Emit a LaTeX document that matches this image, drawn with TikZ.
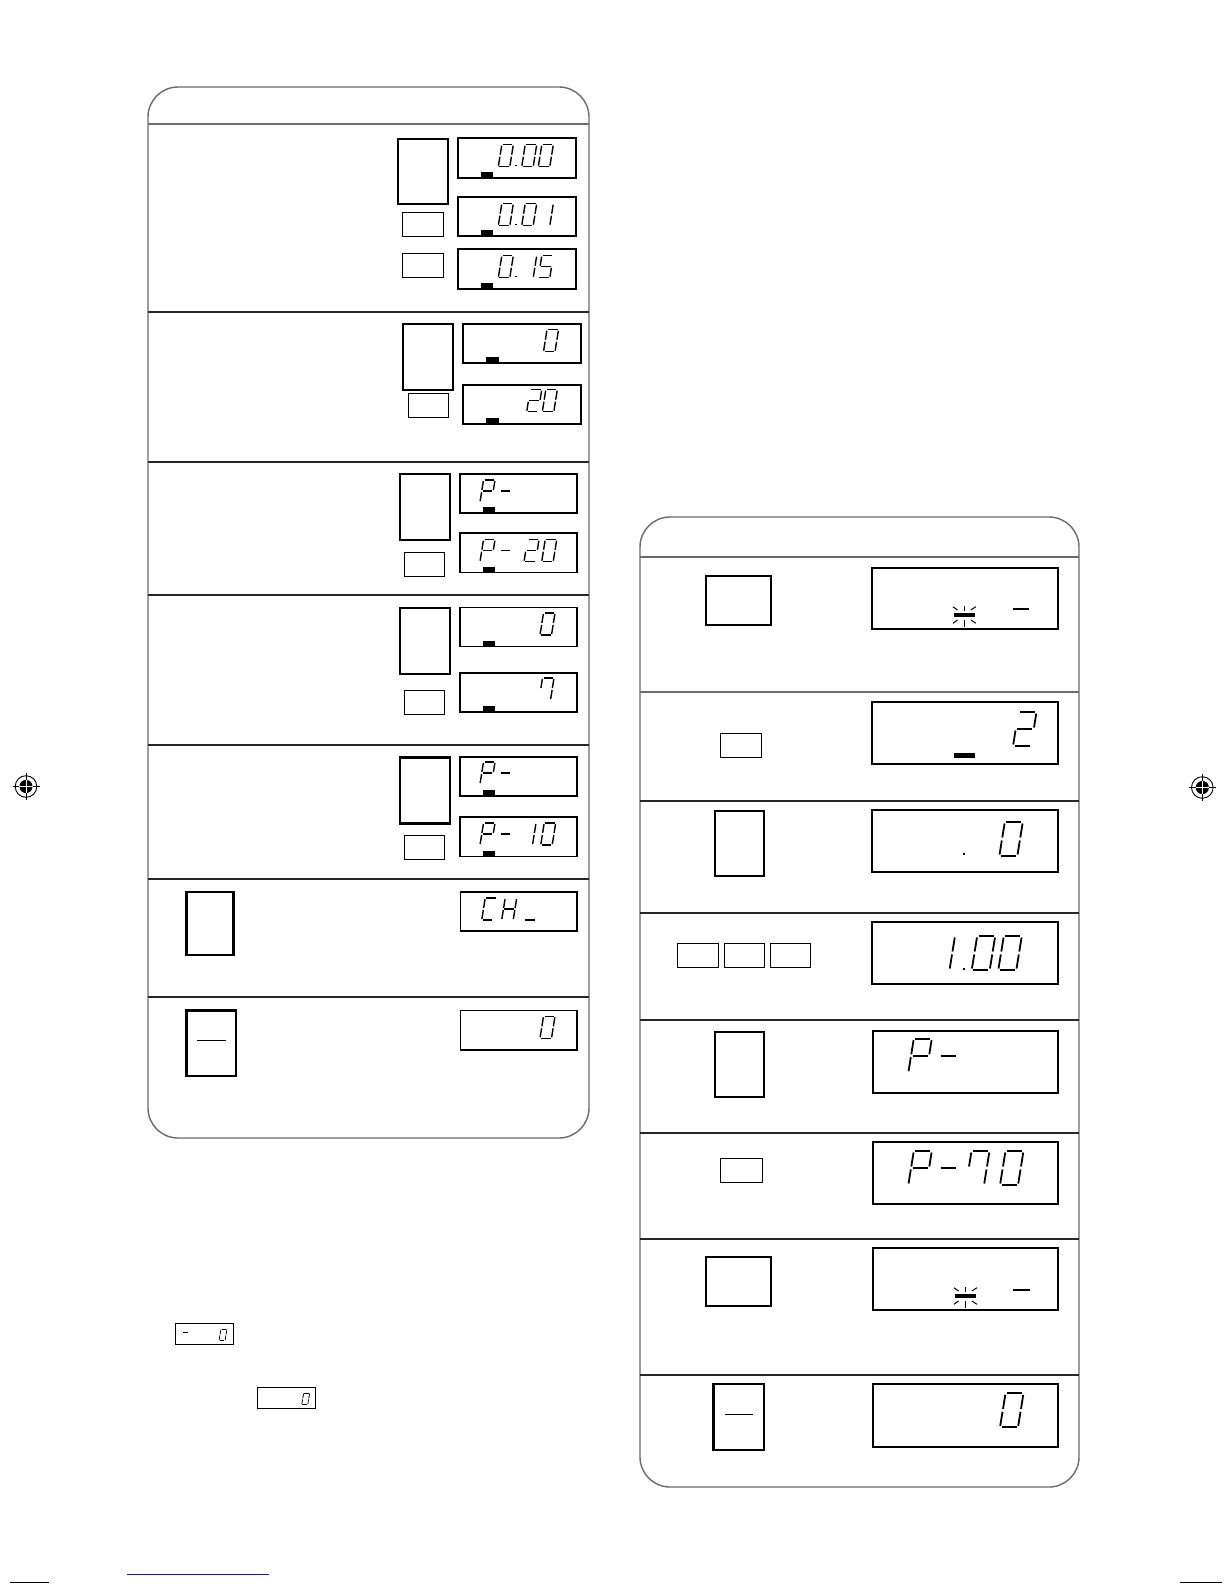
\documentclass[tikz,border=0pt]{standalone}
\definecolor{panelgray}{gray}{0.42}
\definecolor{navyline}{rgb}{0.1,0.12,0.45}
\tikzset{
  panel/.style={draw=panelgray, line width=0.7pt, rounded corners=15pt},
  hdr/.style={draw=panelgray, line width=0.65pt},
  sep/.style={draw=black!85, line width=0.6pt},
  btn/.style={draw=black, line width=0.5pt},
  btnthick/.style={draw=black, line width=1.15pt},
  lcd/.style={draw=black, line width=0.65pt},
  lcdthin/.style={draw=black, line width=0.5pt},
  ind/.style={fill=black},
  segline/.style={line width=\slw, shorten >=\sgap, shorten <=\sgap, line cap=butt},
  ray/.style={line width=0.5pt},
}
\pgfkeys{
  /seg/a/.code={\draw[segline] ({\sx+\ss},{\sy-\sh}) -- ({\sx+\ss+\sw},{\sy-\sh});},
  /seg/b/.code={\draw[segline] ({\sx+\ss+\sw},{\sy-\sh}) -- ({\sx+\ss/2+\sw},{\sy-\sh/2});},
  /seg/c/.code={\draw[segline] ({\sx+\ss/2+\sw},{\sy-\sh/2}) -- ({\sx+\sw},{\sy});},
  /seg/d/.code={\draw[segline] ({\sx},{\sy}) -- ({\sx+\sw},{\sy});},
  /seg/e/.code={\draw[segline] ({\sx},{\sy}) -- ({\sx+\ss/2},{\sy-\sh/2});},
  /seg/f/.code={\draw[segline] ({\sx+\ss/2},{\sy-\sh/2}) -- ({\sx+\ss},{\sy-\sh});},
  /seg/g/.code={\draw[segline] ({\sx+\ss/2},{\sy-\sh/2}) -- ({\sx+\ss/2+\sw},{\sy-\sh/2});},
}
\newcommand\segrun[1]{\edef\seglist{#1}\foreach \q in \seglist {\pgfkeys{/seg/\q}}}
\newcommand\lcdS[3]{\def\sx{#1}\def\sy{#2}\def\sw{11.5}\def\sh{22}\def\ss{3.5}\def\slw{0.7pt}\def\sgap{0.5pt}\segrun{#3}}
\newcommand\lcdB[3]{\def\sx{#1}\def\sy{#2}\def\sw{18}\def\sh{34}\def\ss{5.5}\def\slw{0.9pt}\def\sgap{0.75pt}\segrun{#3}}
\newcommand\lcdT[3]{\def\sx{#1}\def\sy{#2}\def\sw{6}\def\sh{11.7}\def\ss{2}\def\slw{0.4pt}\def\sgap{0.3pt}\segrun{#3}}
\newcommand\lcddot[2]{\fill ({#1-0.9},{#2-0.9}) rectangle ({#1+0.9},{#2+0.9});}
\newcommand\blinkmark[2]{%
  \fill ({#1-10.5},{#2-2}) rectangle ({#1+10.5},{#2+2});
  \draw[ray] (#1,{#2-9.3}) -- (#1,{#2-4.3});
  \draw[ray] ({#1-11.6},{#2-8.6}) -- ({#1-7},{#2-5.3});
  \draw[ray] ({#1+6.4},{#2-5.3}) -- ({#1+11.4},{#2-8.6});
  \draw[ray] (#1,{#2+4.3}) -- (#1,{#2+11.4});
  \draw[ray] ({#1-11.6},{#2+8}) -- ({#1-7},{#2+4.7});
  \draw[ray] ({#1+6.4},{#2+4.7}) -- ({#1+11.4},{#2+8});
}
\newcommand\regmark[2]{%
  \draw[line width=0.45pt] (#1,#2) circle (5.4pt);
  \draw[line width=0.45pt] ({#1-13.5},#2) -- ({#1+13.5},#2) (#1,{#2-13.5}) -- (#1,{#2+13.5});
  \fill (#1,#2) circle (3.3pt);
  \draw[white, line width=0.45pt] ({#1-6.6},#2) -- ({#1+6.6},#2) (#1,{#2-6.6}) -- (#1,{#2+6.6});
}
\def\ZERO{a,b,c,d,e,f}
\def\ONE{b,c}
\def\TWO{a,b,g,e,d}
\def\FIVE{a,f,g,c,d}
\def\SEVEN{a,b,c,f}
\def\PP{a,b,f,g,e}
\begin{document}
\begin{tikzpicture}[x=0.5pt,y=-0.5pt]
\useasboundingbox (0,0) rectangle (1224,1584);
\fill[white] (0,0) rectangle (1224,1584);

% ================= LEFT PANEL =================
\draw[panel] (148,87) rectangle (589,1138);
\draw[hdr] (148,124) -- (589,124);
\foreach \yy in {312,595,745,879,997} \draw[sep] (148,\yy) -- (589,\yy);
\draw[sep, line width=1pt] (148,462) -- (589,462);

% section 1
\draw[btnthick] (398,139) rectangle (448,204);
\draw[btn] (402,212) rectangle (443,236);
\draw[btn] (402,253) rectangle (443,277);
\draw[lcd] (458,138) rectangle (576,178);
\draw[lcd] (458,197) rectangle (576,236);
\draw[lcd] (458,249) rectangle (576,289);
\fill[ind] (481,172) rectangle (493,178);
\fill[ind] (481,230.3) rectangle (493,236);
\fill[ind] (481,283) rectangle (493,289);
\lcdS{498.3}{166.7}{\ZERO}\lcddot{516}{165.5}\lcdS{521.7}{166.7}{\ZERO}\lcdS{538.3}{166.7}{\ZERO}
\lcdS{498.3}{225.7}{\ZERO}\lcddot{516}{224.5}\lcdS{521.7}{225.7}{\ZERO}\lcdS{538.3}{225.7}{\ONE}
\lcdS{498.3}{277.7}{\ZERO}\lcddot{516}{276.5}\lcdS{521.7}{277.7}{\ONE}\lcdS{538.3}{277.7}{\FIVE}

% section 2
\draw[btnthick] (403,324) rectangle (453,390);
\draw[btn] (408,393.5) rectangle (448.5,417.5);
\draw[lcd] (463,324) rectangle (581,363);
\draw[lcd] (463,385) rectangle (581,424);
\fill[ind] (486,357) rectangle (498.5,363);
\fill[ind] (486,418) rectangle (498.5,424);
\lcdS{543.5}{351.7}{\ZERO}
\lcdS{526.7}{411.7}{\TWO}\lcdS{542.3}{411.7}{\ZERO}

% section 3
\draw[btnthick] (400,474) rectangle (450,540);
\draw[btn] (404,552) rectangle (444,576);
\draw[lcd] (460,474) rectangle (577,513);
\draw[lcd] (460,533) rectangle (577,572.5);
\fill[ind] (483,507) rectangle (495,513);
\fill[ind] (483,566.5) rectangle (495,572.5);
\lcdS{480}{502}{\PP}\lcdS{498}{502}{g}
\lcdS{480}{561.7}{\PP}\lcdS{498}{561.7}{g}\lcdS{524}{561.7}{\TWO}\lcdS{541.7}{561.7}{\ZERO}

% section 4
\draw[btnthick] (400,608) rectangle (450,674);
\draw[btn] (404,690.5) rectangle (444,714);
\draw[lcd] (460,607.5) rectangle (577,646.5);
\draw[lcd] (460,673) rectangle (577,712);
\fill[ind] (483,640.5) rectangle (495,646.5);
\fill[ind] (483,706) rectangle (495,712);
\lcdS{540}{635}{\ZERO}
\lcdS{539}{700}{\SEVEN}

% section 5
\draw[btnthick] (400,757.5) rectangle (450,823.5);
\draw[btn] (404,835) rectangle (444,859);
\draw[lcd] (460,757) rectangle (577,796);
\draw[lcd] (460,817) rectangle (577,856.5);
\fill[ind] (483,790) rectangle (495,796);
\fill[ind] (483,850.5) rectangle (495,856.5);
\lcdS{480}{784}{\PP}\lcdS{498}{784}{g}
\lcdS{480}{845}{\PP}\lcdS{498}{845}{g}\lcdS{521}{845}{\ONE}\lcdS{540.7}{845}{\ZERO}

% section 6
\draw[btnthick] (186.5,892) rectangle (233.5,955);
\draw[lcd] (460.5,892) rectangle (577,931);
\lcdS{481.7}{920}{a,f,e,d}\lcdS{501.7}{920}{b,c,e,f,g}\lcdS{524}{920}{d}

% section 7
\draw[btnthick] (186.5,1010.5) rectangle (236,1076);
\draw[line width=0.5pt] (197,1040) -- (226,1040);
\draw[lcd] (460.5,1010.5) rectangle (577,1050);
\lcdS{540}{1038.3}{\ZERO}

% small displays below
\draw[lcdthin] (175.3,1323.3) rectangle (233.3,1344.3);
\draw[line width=0.5pt] (183.3,1332.7) -- (188.3,1332.7);
\lcdT{219}{1340.7}{\ZERO}
\draw[lcdthin] (257.3,1387.3) rectangle (315.7,1408.3);
\lcdT{301.7}{1404.7}{\ZERO}

% ================= RIGHT PANEL =================
\draw[panel] (640,517) rectangle (1079,1487);
\draw[hdr] (640,557) -- (1079,557);
\draw[hdr] (640,692) -- (1079,692);
\foreach \yy in {801,913,1020,1133,1239,1375} \draw[sep] (640,\yy) -- (1079,\yy);

% row 1
\draw[btnthick] (706,576) rectangle (771,625);
\draw[lcd] (872,568) rectangle (1058,629);
\blinkmark{964.5}{615.3}
\draw[line width=1pt] (1013.3,608.7) -- (1029.3,608.7);

% row 2
\draw[btn] (720,733) rectangle (761,757);
\draw[lcd] (872,702) rectangle (1058,764);
\fill (954,753) rectangle (975,757.7);
\lcdB{1013}{746}{\TWO}

% row 3
\draw[btnthick] (715,811) rectangle (764,876);
\draw[lcd] (872,810) rectangle (1058,872);
\lcddot{964.3}{854}
\lcdB{999.3}{856}{\ZERO}

% row 4
\draw[btn] (677,943) rectangle (718,967);
\draw[btn] (724,943) rectangle (764,967);
\draw[btn] (770,943) rectangle (810,967);
\draw[lcd] (872,922) rectangle (1058,984);
\lcdB{931.5}{970}{\ONE}\lcddot{964.3}{969}\lcdB{971.7}{970}{\ZERO}\lcdB{998.3}{970}{\ZERO}

% row 5
\draw[btnthick] (715,1032) rectangle (764,1097);
\draw[lcd] (873,1031) rectangle (1058,1093);
\lcdB{908.3}{1072.7}{\PP}\lcdB{936.3}{1072.7}{g}

% row 6
\draw[btn] (720,1158) rectangle (762,1182);
\draw[lcd] (873,1142) rectangle (1058,1204);
\lcdB{908.3}{1185}{\PP}\lcdB{936.3}{1185}{g}\lcdB{966}{1185}{\SEVEN}\lcdB{1000}{1185}{\ZERO}

% row 7
\draw[btnthick] (706,1257) rectangle (771,1306);
\draw[lcd] (873,1248) rectangle (1058,1310);
\blinkmark{965.5}{1296.3}
\draw[line width=1pt] (1013.3,1290) -- (1030,1290);

% row 8
\draw[btnthick] (713.5,1384) rectangle (764,1450);
\draw[line width=0.5pt] (725,1414) -- (752.7,1414);
\draw[lcd] (873,1384) rectangle (1058,1447);
\lcdB{1000}{1427.3}{\ZERO}

% ================= page marks =================
\regmark{26}{786.5}
\regmark{1202.3}{787.5}
\draw[line width=0.6pt] (10,1582.7) -- (49.3,1582.7);
\draw[navyline, line width=0.6pt] (127.3,1574.7) -- (268.7,1574.7);
\draw[line width=0.6pt] (1180,1582.7) -- (1222,1582.7);
\end{tikzpicture}
\end{document}
